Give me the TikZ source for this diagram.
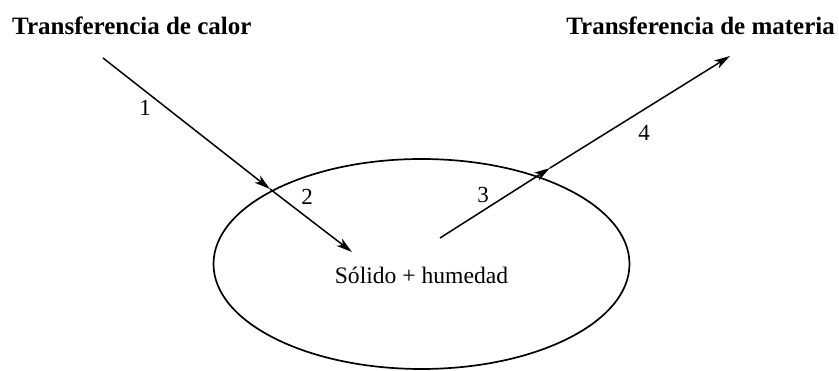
\documentclass[tikz,border=0pt]{standalone}
\usepackage{fontspec}
\setmainfont{Liberation Serif}
\usetikzlibrary{arrows.meta,shapes.geometric}
\begin{document}
\begin{tikzpicture}[x=1pt,y=-1pt,
  title/.style={font=\fontsize{25}{27}\selectfont\bfseries, inner sep=0pt},
  lbl/.style={font=\fontsize{23}{25}\selectfont, inner sep=0pt},
  body/.style={font=\fontsize{23.6}{26}\selectfont, inner sep=0pt},
  arr/.style={line width=1.5pt, -{Stealth[length=16pt,width=9pt,inset=4.5pt]}}]
\useasboundingbox (0,0) rectangle (839,371);
\node[title, anchor=base west] (t1) at (12,35) {Transferencia de calor};
\node[title, anchor=base east] (t2) at (835,35) {Transferencia de materia};
\node[draw, ellipse, line width=1.7pt, minimum width=416pt, minimum height=210pt, inner sep=0pt] (sol) at (421.5,264) {};
\node[body, anchor=base] (txt) at (421.5,284) {Sólido + humedad};
\coordinate (s1) at (103,58);
\coordinate (m1) at (270,189);
\coordinate (e1) at (352,252);
\coordinate (s2) at (440,238);
\coordinate (m2) at (550,168);
\coordinate (e2) at (730,56);
\draw[arr] (s1) -- (m1);
\draw[arr] (m1) -- (e1);
\draw[arr] (s2) -- (m2);
\draw[arr] (m2) -- (e2);
\node[lbl] (n1) at (145,108) {1};
\node[lbl] (n2) at (307,197) {2};
\node[lbl] (n3) at (483,195) {3};
\node[lbl] (n4) at (644,133) {4};
\end{tikzpicture}
\end{document}
